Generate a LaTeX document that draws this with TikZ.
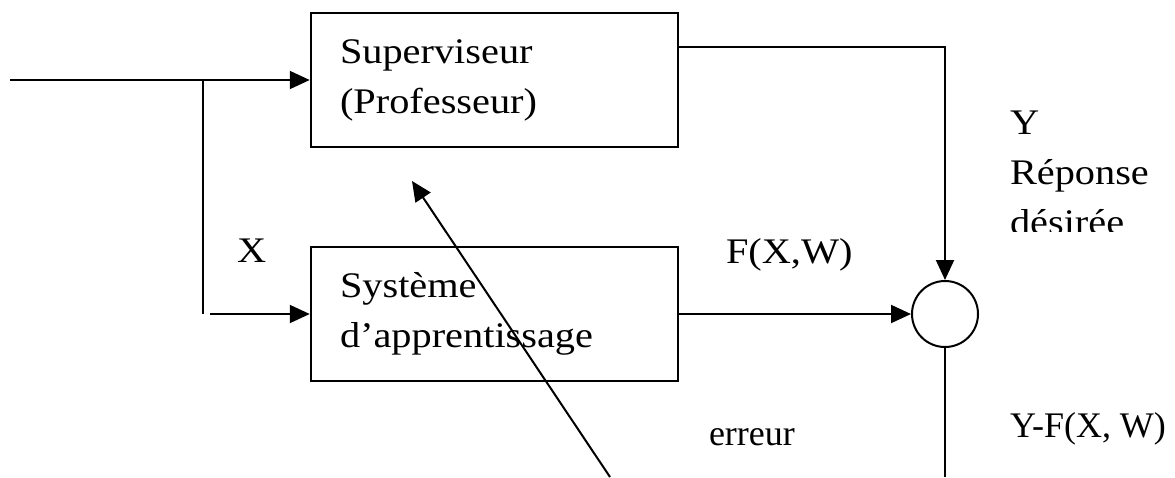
\documentclass[tikz,border=0pt]{standalone}
\usepackage{fontspec}
\setmainfont{Liberation Serif}
\newfontfamily\bookfont[FakeStretch=1.12]{Liberation Serif}
\usetikzlibrary{arrows.meta}

\begin{document}
\begin{tikzpicture}[x=1pt, y=-1pt, line width=2pt,
  block/.style={rectangle, draw, line width=2.5pt, minimum width=367pt, minimum height=134pt,
    text width=309pt, inner xsep=29pt, inner ysep=0pt, align=left,
    font=\bookfont\fontsize{36}{50}\selectfont},
  lbl/.style={inner sep=0pt, font=\bookfont\fontsize{36}{50}\selectfont},
  sig/.style={-{Triangle[length=20pt,width=18pt]}}]

  \useasboundingbox (0,0) rectangle (1175,477);

  \node[block] (sup) at (494.5,80) {Superviseur\\(Professeur)};
  \node[block] (app) at (494.5,314) {Système\\d’apprentissage};
  \node[circle, draw, minimum size=66pt, inner sep=0pt] (sum) at (945,314) {};

  % Input X (left side)
  \coordinate (in) at (10,80);
  \coordinate (split) at (203,80);
  \coordinate (splitend) at (203,314);
  \coordinate (appin) at (210,314);
  \draw[sig] (in) -- (sup.west);
  \draw (split) -- (splitend);
  \draw[sig] (appin) -- (app.west);
  \node[lbl, anchor=base west] (x) at (236,262) {X};

  % Outputs to the comparator
  \draw[sig] ([yshift=33pt]sup.east) -| (sum.north);
  \draw[sig] (app.east) -- (sum.west);
  \node[lbl, anchor=base west] (fxw) at (725,263) {F(X,W)};
  \begin{scope}
    \clip (990,90) rectangle (1175,231);
    \node[lbl, anchor=base west] (rep) at (1009,234)
      {\vbox{\baselineskip=50pt\hbox{Y}\hbox{Réponse}\hbox{désirée}}};
  \end{scope}

  % Error
  \coordinate (errend) at (945,477);
  \draw (sum.south) -- (errend);
  \node[lbl, font=\fontsize{36}{43}\selectfont, anchor=base west] (diff) at (1009,437) {Y-F(X, W)};
  \node[lbl, font=\fontsize{36}{43}\selectfont, anchor=base west] (err) at (708,445) {erreur};

  % Feedback to the learner
  \coordinate (fbfrom) at (610,477);
  \coordinate (fbto) at (412,181);
  \draw[sig] (fbfrom) -- (fbto);
\end{tikzpicture}
\end{document}
